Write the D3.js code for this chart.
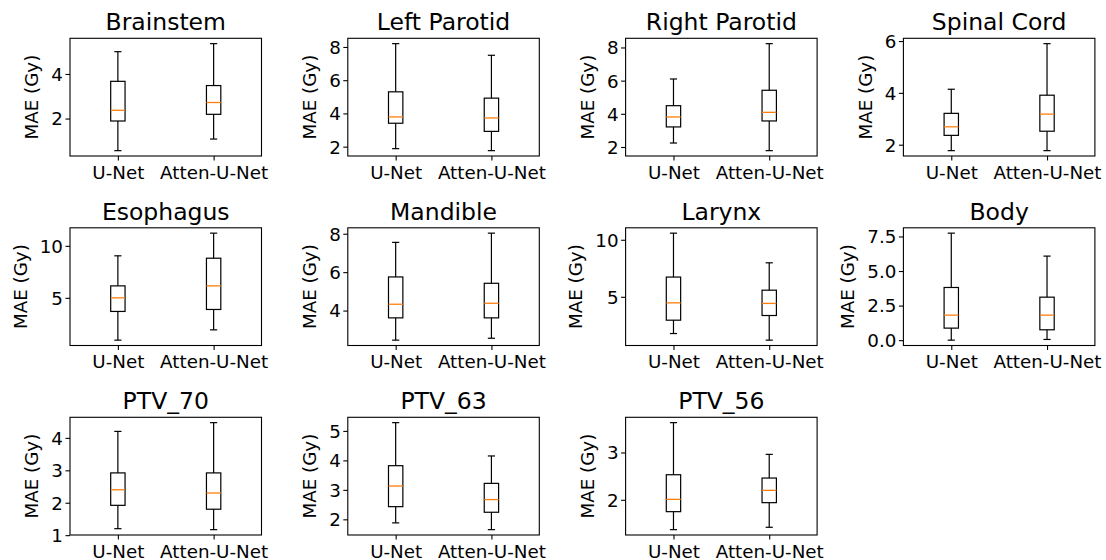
<!DOCTYPE html>
<html lang="en">
	<head>
		<meta charset="utf-8">
		<title>MAE boxplots</title>
		<script src="https://d3js.org/d3.v7.min.js"></script>
		<style type="text/css">
		body { margin: 0; background: white; }
		text {
				font-family: "DejaVu Sans", sans-serif;
				fill: black;
		}
		</style>
	</head>
	<body>
		<script type="text/javascript">

		//Data: [whisker low, Q1, median, Q3, whisker high]
		var organs = ["Brainstem", "Left Parotid", "Right Parotid", "Spinal Cord",
				"Esophagus", "Mandible", "Larynx", "Body",
				"PTV_70", "PTV_63", "PTV_56"];
		var models = ["U-Net", "Atten-U-Net"];
		var unet = [
				[0.56, 1.89, 2.37, 3.67, 5.0],
				[1.88, 3.41, 3.79, 5.30, 8.2],
				[2.24, 3.21, 3.81, 4.49, 6.10],
				[1.77, 2.36, 2.69, 3.21, 4.14],
				[0.93, 3.69, 5.0, 6.15, 9.04],
				[2.46, 3.62, 4.33, 5.75, 7.55],
				[1.78, 2.95, 4.47, 6.73, 10.58],
				[0.0, 0.87, 1.81, 3.81, 7.74],
				[1.2, 1.92, 2.40, 2.92, 4.2],
				[1.88, 2.43, 3.13, 3.82, 5.28],
				[1.37, 1.75, 2.01, 2.53, 3.63]
		];
		var atten = [
				[1.08, 2.19, 2.72, 3.48, 5.36],
				[1.76, 2.92, 3.73, 4.92, 7.5],
				[1.78, 3.57, 4.09, 5.42, 8.23],
				[1.77, 2.52, 3.18, 3.91, 5.9],
				[1.92, 3.88, 6.15, 8.81, 11.22],
				[2.56, 3.62, 4.38, 5.42, 8.03],
				[1.2, 3.36, 4.42, 5.58, 7.98],
				[0.05, 0.75, 1.81, 3.11, 6.08],
				[1.17, 1.80, 2.30, 2.92, 4.47],
				[1.65, 2.24, 2.67, 3.22, 4.15],
				[1.42, 1.94, 2.20, 2.46, 2.96]
		];
		var yTicks = [
				[2, 4], [2, 4, 6, 8], [2, 4, 6, 8], [2, 4, 6],
				[5, 10], [4, 6, 8], [5, 10], [0, 2.5, 5, 7.5],
				[1, 2, 3, 4], [2, 3, 4, 5], [2, 3]
		];
		var yFormats = ["d", "d", "d", "d", "d", "d", "d", ".1f", "d", "d", "d"];

		//Layout
		var W = 1106, H = 560;
		var cols = 4;
		var left0 = 70, colStep = 277.8, pw = 191.5;
		var top0 = 38.3, rowStep = 189.5, ph = 117.7;
		var fs = 18.3, titleFs = 23.5;

		var svg = d3.select("body")
				.append("svg")
				.attr("width", W)
				.attr("height", H);

		svg.append("rect").attr("width", W).attr("height", H).attr("fill", "white");

		organs.forEach(function(name, i) {
				var col = i % cols, row = Math.floor(i / cols);
				var g = svg.append("g")
						.attr("transform", "translate(" + (left0 + col * colStep) + "," + (top0 + row * rowStep) + ")");

				var stats = [unet[i], atten[i]];
				var all = d3.merge(stats);
				var ext = d3.extent(all);
				var pad = (ext[1] - ext[0]) * 0.05;

				var x = d3.scaleLinear().domain([0.5, 2.5]).range([0, pw]);
				var y = d3.scaleLinear().domain([ext[0] - pad, ext[1] + pad]).range([ph, 0]);

				//y axis
				var yAxis = d3.axisLeft(y)
						.tickValues(yTicks[i])
						.tickFormat(d3.format(yFormats[i]))
						.tickSize(4.5)
						.tickPadding(2.5);
				var ya = g.append("g").call(yAxis);
				ya.select(".domain").remove();
				ya.selectAll("line").attr("stroke", "black").attr("stroke-width", 1.1);
				ya.selectAll("text").attr("font-size", fs).attr("fill", "black")
						.attr("font-family", "DejaVu Sans").attr("dy", "0.35em");

				//x axis
				var xAxis = d3.axisBottom(x)
						.tickValues([1, 2])
						.tickFormat(function(d) { return models[d - 1]; })
						.tickSize(4.5)
						.tickPadding(5);
				var xa = g.append("g").attr("transform", "translate(0," + ph + ")").call(xAxis);
				xa.select(".domain").remove();
				xa.selectAll("line").attr("stroke", "black").attr("stroke-width", 1.1);
				xa.selectAll("text").attr("font-size", fs).attr("fill", "black")
						.attr("font-family", "DejaVu Sans").attr("dy", "0.72em");

				//frame
				g.append("rect")
						.attr("width", pw)
						.attr("height", ph)
						.attr("fill", "none")
						.attr("stroke", "black")
						.attr("stroke-width", 1.1);

				//boxes
				var bw = 0.075, cw = 0.0375;
				var boxes = g.selectAll("g.box")
						.data(stats)
						.enter()
						.append("g")
						.attr("class", "box");

				boxes.each(function(s, j) {
						var b = d3.select(this);
						var cx = x(j + 1);
						var hw = x(1 + bw) - x(1), hc = x(1 + cw) - x(1);
						b.append("line").attr("x1", cx).attr("x2", cx).attr("y1", y(s[0])).attr("y2", y(s[1]));
						b.append("line").attr("x1", cx).attr("x2", cx).attr("y1", y(s[3])).attr("y2", y(s[4]));
						b.append("line").attr("x1", cx - hc).attr("x2", cx + hc).attr("y1", y(s[0])).attr("y2", y(s[0]));
						b.append("line").attr("x1", cx - hc).attr("x2", cx + hc).attr("y1", y(s[4])).attr("y2", y(s[4]));
						b.append("rect")
								.attr("x", cx - hw)
								.attr("y", y(s[3]))
								.attr("width", 2 * hw)
								.attr("height", y(s[1]) - y(s[3]))
								.attr("fill", "none");
						b.selectAll("line, rect").attr("stroke", "black").attr("stroke-width", 1.2);
						b.append("line")
								.attr("x1", cx - hw).attr("x2", cx + hw)
								.attr("y1", y(s[2])).attr("y2", y(s[2]))
								.attr("stroke", "#ff7f0e")
								.attr("stroke-width", 1.3);
				});

				//title
				g.append("text")
						.attr("x", pw / 2)
						.attr("y", -8)
						.attr("text-anchor", "middle")
						.attr("font-size", titleFs)
						.text(name);

				//y label, placed left of the widest tick label
				var maxW = 0;
				ya.selectAll("text").each(function() {
						maxW = Math.max(maxW, this.getComputedTextLength());
				});
				var lx = -(4.5 + 2.5 + maxW + 13.2);
				g.append("text")
						.attr("transform", "translate(" + lx + "," + (ph / 2) + ") rotate(-90)")
						.attr("text-anchor", "middle")
						.attr("font-size", fs)
						.text("MAE (Gy)");
		});

		</script>
	</body>
</html>
